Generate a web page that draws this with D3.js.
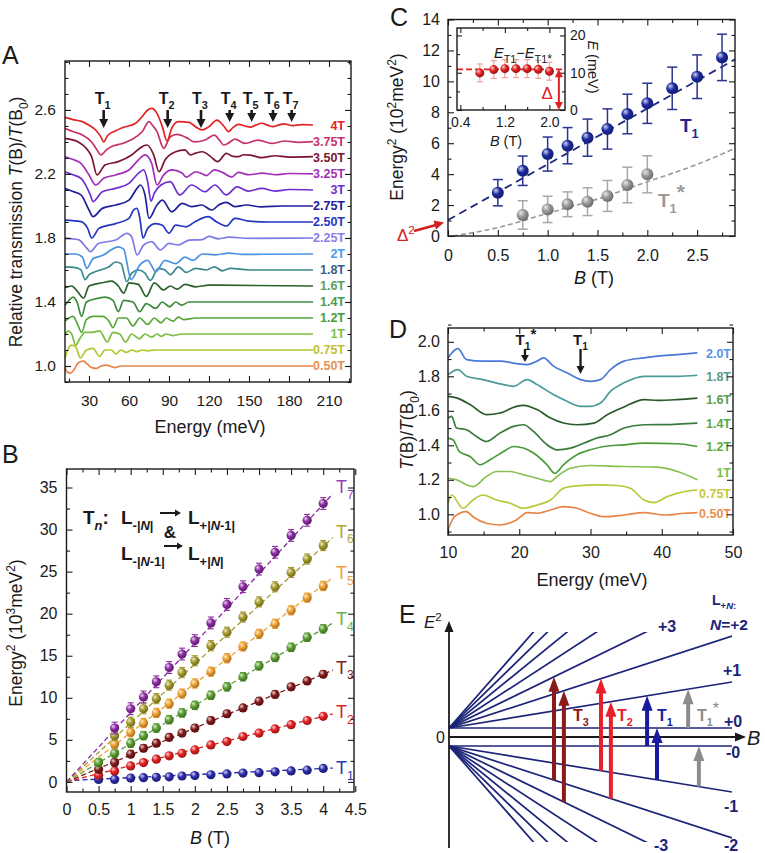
<!DOCTYPE html>
<html><head><meta charset="utf-8">
<script src="https://cdn.jsdelivr.net/npm/d3@7"></script>
<style>body{margin:0;background:#fff}</style>
</head><body>
<svg id="fig" width="765" height="853" xmlns="http://www.w3.org/2000/svg"></svg>
<script>
// ================= DATA =================
// ---- Panel A: transmission spectra (Energy meV, displayed T(B)/T(B0)) ----
const fieldsA = ["4T","3.75T","3.50T","3.25T","3T","2.75T","2.50T","2.25T","2T","1.8T","1.6T","1.4T","1.2T","1T","0.75T","0.50T"];
const offsetsA = [2.5,2.4,2.3,2.2,2.1,2.0,1.9,1.8,1.7,1.6,1.5,1.4,1.3,1.2,1.1,1.0];
const colorsA = ["#e02424","#c8306e","#7a1530","#a32fb8","#6e2fd0","#20209e","#2436c4","#7f7ae6","#4a92e2","#3a8a8c","#2c622c","#3c8a3c","#56a63a","#7cbc3e","#b6c632","#e8844a"];
const labelColorsA = ["#e02424","#c8306e","#7a1530","#a32fb8","#6e2fd0","#20209e","#2436c4","#8a7ee8","#4a9ae8","#3a6088","#5c9e5c","#4a9a4a","#4a9a3a","#7cc040","#c0c230","#e8904e"];
const spectraA = [
 [[12,2.554],[18,2.54],[25,2.527],[30,2.505],[35,2.475],[39,2.43],[41,2.40],[44,2.44],[50,2.47],[55,2.489],[65,2.517],[70,2.56],[74,2.60],[77,2.61],[81,2.579],[85,2.496],[88.5,2.406],[92,2.485],[97,2.527],[105,2.523],[111,2.489],[115,2.475],[120,2.496],[126,2.537],[131,2.50],[134.5,2.465],[138,2.49],[142,2.51],[147,2.50],[151,2.493],[155,2.505],[159.5,2.517],[164,2.505],[168,2.496],[172,2.505],[176,2.513],[183,2.502],[190,2.508],[198,2.506]],
 [[12,2.485],[18,2.465],[25,2.444],[32,2.40],[36,2.35],[39,2.319],[43,2.35],[47,2.371],[55,2.39],[62,2.415],[70,2.465],[75,2.527],[78,2.50],[81,2.465],[86,2.36],[91,2.433],[96,2.448],[104,2.423],[109,2.40],[117,2.412],[124,2.443],[128,2.41],[131,2.381],[134,2.39],[139.5,2.418],[147,2.391],[157,2.412],[167,2.391],[177,2.406],[187,2.398],[198,2.402]],
 [[12,2.423],[22,2.40],[28,2.36],[32,2.308],[36,2.194],[42,2.256],[52,2.277],[62,2.319],[70,2.371],[73.5,2.381],[78.5,2.319],[82.5,2.214],[87,2.287],[95,2.339],[102,2.35],[106,2.319],[110,2.33],[115,2.339],[121,2.31],[126.5,2.277],[133,2.329],[138,2.31],[142,2.308],[146,2.32],[151,2.318],[159.5,2.302],[169.5,2.314],[180,2.305],[198,2.308]],
 [[12,2.308],[18,2.29],[24,2.266],[30,2.194],[35,2.131],[41,2.173],[50,2.194],[60,2.225],[67,2.287],[72,2.319],[77,2.266],[81,2.131],[86,2.194],[92,2.225],[100,2.204],[103,2.18],[110,2.214],[114,2.204],[118,2.19],[124,2.225],[130,2.21],[137,2.18],[142,2.21],[150,2.195],[160,2.205],[170,2.195],[180,2.203],[198,2.2]],
 [[12,2.214],[18,2.195],[24,2.173],[31,2.069],[33,2.027],[40,2.089],[50,2.11],[60,2.141],[67,2.204],[71,2.225],[74,2.152],[76.5,2.03],[79,2.08],[84,2.131],[91,2.152],[98,2.069],[107,2.131],[117,2.089],[124.5,2.131],[133,2.069],[141,2.12],[149.5,2.093],[159.5,2.11],[169.5,2.093],[180,2.103],[198,2.1]],
 [[12,2.11],[18,2.09],[24,2.069],[30,1.975],[33,1.933],[40,1.985],[50,2.006],[60,2.037],[66,2.11],[68.5,2.131],[72,2.069],[75,1.923],[81,2.006],[85,2.037],[92,1.964],[100,2.016],[107,1.996],[114.5,2.006],[122,1.975],[128,2.01],[133,2.023],[139.5,1.996],[148,2.006],[159.5,1.994],[175,2.0],[198,2.0]],
 [[12,1.912],[24,1.902],[29,1.86],[32,1.80],[37.5,1.86],[50,1.89],[60,1.923],[63.5,1.975],[66,1.985],[68,1.93],[70.5,1.80],[74,1.86],[80,1.89],[85,1.88],[90,1.83],[95,1.88],[103,1.87],[109.5,1.902],[119.5,1.933],[125.5,1.902],[133,1.875],[139.5,1.923],[150,1.905],[165,1.9],[198,1.9]],
 [[12,1.798],[22,1.79],[28.5,1.735],[31,1.714],[37,1.766],[50,1.787],[58.5,1.829],[62,1.808],[66,1.694],[71,1.756],[77,1.777],[83.5,1.725],[90,1.766],[97,1.756],[105,1.787],[115,1.79],[120,1.81],[127,1.795],[135,1.805],[150,1.798],[198,1.8]],
 [[12,1.70],[20,1.70],[25,1.68],[28.3,1.61],[33,1.67],[40,1.69],[52,1.745],[56,1.73],[61.6,1.54],[68,1.63],[74,1.66],[80,1.59],[87,1.66],[95,1.64],[102,1.68],[108,1.66],[115,1.70],[125,1.695],[135,1.705],[145,1.698],[198,1.7]],
 [[12,1.62],[20,1.615],[24,1.60],[27,1.54],[30,1.57],[35,1.59],[45,1.62],[50,1.65],[54,1.64],[58.3,1.527],[62,1.58],[67,1.60],[72,1.58],[76,1.535],[82,1.61],[87,1.60],[91,1.57],[97,1.62],[103,1.585],[110,1.61],[118,1.60],[124,1.62],[130,1.595],[136,1.61],[150,1.60],[198,1.6]],
 [[12,1.49],[17,1.50],[21,1.47],[26,1.425],[30,1.50],[40,1.52],[47,1.53],[52,1.50],[56,1.455],[60,1.52],[67,1.51],[73,1.435],[79,1.52],[86,1.475],[91,1.50],[96,1.48],[102,1.51],[110,1.495],[120,1.505],[198,1.5]],
 [[12,1.38],[15,1.41],[18,1.43],[21,1.40],[24.5,1.31],[28,1.40],[35,1.42],[42,1.43],[48,1.41],[52,1.34],[56,1.41],[63,1.40],[68,1.34],[73,1.39],[80,1.36],[85,1.40],[90.5,1.37],[95,1.40],[99.5,1.38],[105,1.40],[198,1.4]],
 [[12,1.28],[15,1.30],[18,1.31],[21,1.27],[24.5,1.21],[28,1.29],[33,1.31],[40,1.31],[45,1.28],[48,1.24],[52,1.30],[58,1.30],[63,1.25],[68,1.30],[74,1.26],[79,1.30],[84,1.27],[88,1.30],[93,1.28],[97,1.305],[101,1.29],[110,1.30],[198,1.3]],
 [[12,1.19],[14.5,1.22],[17,1.20],[20,1.13],[23,1.17],[27,1.21],[32,1.21],[38,1.22],[43.6,1.15],[48,1.21],[53,1.20],[57.4,1.15],[62,1.20],[67.8,1.17],[72,1.20],[77,1.18],[81,1.20],[84,1.185],[88,1.20],[93,1.19],[100,1.20],[198,1.2]],
 [[12,1.05],[14,1.10],[17,1.13],[20,1.12],[23.5,1.05],[28,1.10],[33,1.11],[38,1.06],[42,1.10],[47,1.10],[50,1.075],[54,1.10],[58,1.085],[62,1.10],[66,1.09],[70,1.10],[74,1.095],[80,1.10],[198,1.1]],
 [[12,0.99],[14,0.96],[16.3,0.956],[19,0.98],[22,1.02],[25.7,1.03],[29,1.01],[32,0.99],[35.8,0.985],[39,1.00],[43.3,1.006],[47,0.995],[49.5,0.99],[54,1.0],[198,1.0]]
];
const arrowSubA = ["1","2","3","4","5","6","7"];
const arrowEnergyA = [41,89,114,135.5,152,168,182];
const ticksAx = [30,60,90,120,150,180,210];
const ticksAy = [1.0,1.4,1.8,2.2,2.6];

// ---- Panel B: Energy^2 (10^3 meV^2) vs B ----
const fieldB = [0.5,0.75,1,1.2,1.4,1.6,1.8,2,2.25,2.5,2.75,3,3.25,3.5,3.75,4];
const namesB = ["1","2","3","4","5","6","7"];
const colorsB = ["#2a2aa8","#e02020","#801818","#5a9e30","#f0a030","#a39a2a","#8a2aa0"];
const labelColorsB = ["#2a3aa8","#e02424","#802020","#6ab04a","#f0a040","#b0a838","#9a40b0"];
const valuesB = [
 [0.3,0.3,0.45,0.5,0.55,0.6,0.7,0.75,0.85,0.95,1.05,1.1,1.2,1.3,1.4,1.6],
 [0.8,1.3,1.9,2.3,2.7,3.1,3.4,3.8,4.4,4.8,5.4,5.8,6.3,6.8,7.3,7.8],
 [1.5,2.3,3.3,4.0,4.6,5.3,5.8,6.4,7.3,8.1,8.8,9.6,10.4,11.3,12.0,12.8],
 [2.3,3.4,4.6,5.5,6.4,7.4,8.2,9.1,10.3,11.3,12.5,13.8,14.8,16.0,17.2,18.2],
 [null,4.5,5.9,7.0,8.2,9.3,10.5,11.7,13.1,14.7,16.1,17.6,18.8,20.4,21.9,23.3],
 [null,5.5,7.1,8.7,9.9,11.5,13.0,14.4,16.2,17.8,19.6,21.4,23.2,24.9,26.5,28.1],
 [null,6.4,8.7,10.1,11.9,13.6,15.2,16.8,18.9,21.1,23.2,25.3,27.3,29.3,31.1,33.1]
];
const errB = [0.3,0.35,0.4,0.5,0.55,0.6,0.7];
const fitSlopeB = [0.36,1.95,3.2,4.55,5.85,7.0,8.25];
const fitInterceptB = [0.15,0,0,0,0,0,0];
const ticksBx = [0,0.5,1,1.5,2,2.5,3,3.5,4,4.5];
const ticksBy = [0,5,10,15,20,25,30,35];

// ---- Panel C ----
const fieldT1C = [0.5,0.75,1.0,1.2,1.4,1.6,1.8,2.0,2.25,2.5,2.75];
const valT1C = [2.80,4.22,5.30,5.84,6.36,6.92,7.89,8.58,9.55,10.3,11.55];
const errT1C = [0.85,0.95,1.1,1.17,1.2,1.3,1.28,1.3,1.37,1.41,1.5];
const fieldT1sC = [0.75,1.0,1.2,1.4,1.6,1.8,2.0];
const valT1sC = [1.36,1.72,2.05,2.22,2.59,3.30,3.99];
const errT1sC = [0.92,0.85,0.8,0.9,1.0,1.15,1.2];
const fitT1C = [[0,1.03],[2.88,11.42]];
const fitT1sC = [[0.05,0.0],[0.5,0.54],[1.0,1.47],[1.5,2.39],[2.0,3.51],[2.5,4.63],[2.88,5.67]];
const ticksCx = [0,0.5,1.0,1.5,2.0,2.5];
const ticksCy = [0,2,4,6,8,10,12,14];
const fieldInset = [0.75,1.0,1.2,1.4,1.6,1.8,2.0];
const valInset = [9.95,10.85,11.1,11.1,11.1,10.9,10.4];
const errInset = [2.4,2.4,2.4,2.4,2.4,2.4,2.4];
const deltaInset = 10.9;
const ticksInsetX = [0.4,1.2,2.0];
const ticksInsetY = [0,10,20];

// ---- Panel D ----
const fieldsD = ["2.0T","1.8T","1.6T","1.4T","1.2T","1T","0.75T","0.50T"];
const colorsD = ["#4a7ad8","#4a9a9a","#2a5a2a","#3a7a3a","#4a9a3a","#88c050","#b8c83a","#e8864a"];
const labelColorsD = ["#5a92e8","#5a9a8a","#5aa04a","#5aa84a","#5aac3a","#7ac040","#c8c83a","#e8904e"];
const labelValD = [1.93,1.80,1.665,1.525,1.395,1.245,1.12,1.005];
const spectraD = [
 [[10,1.907],[11.4,1.96],[12.6,1.897],[14.9,1.888],[17.3,1.888],[19.6,1.874],[21.1,1.868],[22.5,1.888],[23.4,1.907],[24.8,1.859],[26.7,1.82],[28.6,1.781],[30,1.771],[31.4,1.781],[32.8,1.839],[34.7,1.888],[37.5,1.907],[39.4,1.917],[42.2,1.926],[45,1.936]],
 [[10,1.81],[11.4,1.839],[12.6,1.80],[14.9,1.781],[17.8,1.752],[19.2,1.742],[21.1,1.781],[22.5,1.752],[24.8,1.694],[26.7,1.655],[28.6,1.626],[30,1.626],[31.4,1.645],[32.8,1.713],[34.7,1.762],[37.5,1.80],[39.4,1.80],[42.2,1.80],[45,1.806]],
 [[10,1.684],[11.2,1.675],[13.1,1.636],[15.4,1.578],[17.3,1.587],[19.6,1.626],[20.6,1.632],[22.5,1.607],[24.4,1.558],[26.2,1.529],[28.1,1.519],[30.5,1.529],[32.4,1.578],[34.7,1.622],[37.5,1.665],[39.4,1.66],[42.2,1.665],[45,1.674]],
 [[10,1.558],[10.5,1.568],[11.2,1.50],[12.6,1.49],[14,1.451],[15.4,1.422],[17.3,1.471],[19.2,1.51],[20.6,1.519],[22,1.481],[23.9,1.403],[25.3,1.374],[27.2,1.384],[29.1,1.413],[30.9,1.442],[32.8,1.461],[34.7,1.50],[37.5,1.519],[40.3,1.52],[45,1.529]],
 [[10,1.442],[10.7,1.432],[11.6,1.364],[13.1,1.335],[14.5,1.287],[15.9,1.316],[17.8,1.364],[19.2,1.393],[20.6,1.384],[22,1.355],[23.9,1.287],[25,1.238],[26.2,1.287],[28.1,1.345],[30,1.374],[31.9,1.393],[34.7,1.403],[37.5,1.413],[42.2,1.409],[45,1.393]],
 [[10,1.209],[11.2,1.2],[12.6,1.171],[13.5,1.161],[15.4,1.219],[16.8,1.248],[18.7,1.248],[20.6,1.229],[22.5,1.209],[24.4,1.19],[25.3,1.219],[27.2,1.267],[30,1.283],[34.7,1.277],[39.4,1.273],[42.2,1.248],[45,1.2]],
 [[10,1.064],[10.5,1.112],[12.1,1.035],[13.5,1.083],[14.9,1.112],[16.8,1.083],[18.7,1.064],[20.6,1.035],[22.5,1.054],[24.4,1.083],[26.2,1.151],[28.1,1.165],[30.9,1.171],[33.8,1.167],[35.6,1.151],[37.5,1.083],[38.9,1.068],[40.8,1.103],[43.2,1.132],[45,1.141]],
 [[10,0.909],[10.9,0.986],[12.6,1.016],[13.5,0.986],[15.4,0.948],[17.3,0.938],[19.6,0.967],[21.1,1.01],[22.5,1.006],[24.4,1.025],[26.2,1.045],[28.1,1.035],[30,1.006],[31.9,0.986],[34.7,0.996],[37.5,1.01],[40.4,0.996],[43.2,1.006],[45,1.01]]
];
const arrowEnergyD = [20.8,28.6];
const ticksDx = [10,20,30,40,50];
const ticksDy = [1.0,1.2,1.4,1.6,1.8,2.0];

// ---- Panel E: schematic Landau levels ----
const levelsE = [0,1,2,3,4,5,6,7];
const levelOffsetE = 0.09, levelSlopeE = 0.46;
const transFieldE = [0.371,0.406,0.537,0.572,0.70,0.735,0.845,0.883];
const transFromE = ["-2","-3","-1","-2","-0","-1","+0","-1"];
const transToE = ["+3","+2","+2","+1","+1","+0","+1","-0"];
const transGroupE = ["T3","T3","T2","T2","T1","T1","T1*","T1*"];
const groupColorE = {"T3":"#8b1a1a","T2":"#e8202a","T1":"#1a1aa0","T1*":"#8c8c8c"};

// ================= DRAWING =================
const FONT = "Arial, 'Liberation Sans', Helvetica, sans-serif";
const svg = d3.select("#fig");
const defs = svg.append("defs");
const INK = "#1a1a1a";
const gradCache = {};
function ball(color){
  if (gradCache[color]) return gradCache[color];
  const id = "ball" + Object.keys(gradCache).length;
  const g = defs.append("radialGradient").attr("id",id).attr("cx","0.4").attr("cy","0.4").attr("r","0.62").attr("fx","0.33").attr("fy","0.3");
  g.append("stop").attr("offset","0").attr("stop-color", d3.interpolateRgb(color,"#ffffff")(0.8));
  g.append("stop").attr("offset","0.5").attr("stop-color", color);
  g.append("stop").attr("offset","1").attr("stop-color", d3.color(color).darker(1.1).formatHex());
  gradCache[color] = `url(#${id})`;
  return gradCache[color];
}
function rich(g, x, y, parts, o={}){
  const base = o.size || 16;
  const t = g.append("text").attr("x",x).attr("y",y).attr("font-family",FONT)
    .attr("font-size",base).attr("fill",o.fill||INK).attr("font-weight",o.weight||"normal")
    .attr("text-anchor",o.anchor||"start");
  if (o.rotate) t.attr("transform",`rotate(${o.rotate},${x},${y})`);
  let shift = 0;
  parts.forEach(p => {
    if (typeof p === "string") p = {t:p};
    const s = t.append("tspan").text(p.t);
    const target = p.sub ? base*0.32 : (p.sup ? -base*0.42 : 0);
    const dy = target - shift; shift = target;
    if (dy) s.attr("dy", dy.toFixed(2));
    if (p.sub || p.sup) s.attr("font-size", (base*(p.scale||0.68)).toFixed(1));
    if (p.it) s.attr("font-style","italic");
    if (p.bold) s.attr("font-weight","bold");
    if (p.fill) s.attr("fill",p.fill);
  });
  return t;
}
function frame(g, x, y, o){
  const [xa,xb] = x.range(), [ya,yb] = y.range();
  const fs = o.fs || 16;
  const ax = (fn, scale, vals, len, fmt, tr, pad) => {
    const a = fn(scale).tickValues(vals).tickSize(-len).tickPadding(pad||0).tickFormat(fmt || (()=>""));
    const s = g.append("g").attr("transform",tr).call(a);
    s.select(".domain").remove();
    s.selectAll(".tick line").attr("stroke",INK).attr("stroke-width",1.1);
    s.selectAll(".tick text").attr("font-family",FONT).attr("font-size",fs).attr("fill",INK);
    return s;
  };
  ax(d3.axisBottom, x, o.xMinor, o.minor, null, `translate(0,${ya})`);
  ax(d3.axisBottom, x, o.xMajor, o.major, o.xFmt, `translate(0,${ya})`, o.xPad);
  ax(d3.axisTop, x, o.xMinor, o.minor, null, `translate(0,${yb})`);
  ax(d3.axisTop, x, o.xMajor, o.major, null, `translate(0,${yb})`);
  if (o.yRightLabels) {
    ax(d3.axisRight, y, o.yMinor, o.minor, null, `translate(${xb},0)`);
    ax(d3.axisRight, y, o.yMajor, o.major, o.yFmt, `translate(${xb},0)`, o.yPad);
    ax(d3.axisLeft, y, o.yMinor, o.minor, null, `translate(${xa},0)`);
    ax(d3.axisLeft, y, o.yMajor, o.major, null, `translate(${xa},0)`);
  } else {
    ax(d3.axisLeft, y, o.yMinor, o.minor, null, `translate(${xa},0)`);
    ax(d3.axisLeft, y, o.yMajor, o.major, o.yFmt, `translate(${xa},0)`, o.yPad);
    ax(d3.axisRight, y, o.yMinor, o.minor, null, `translate(${xb},0)`);
    ax(d3.axisRight, y, o.yMajor, o.major, null, `translate(${xb},0)`);
  }
  g.append("rect").attr("x",xa).attr("y",yb).attr("width",xb-xa).attr("height",ya-yb)
    .attr("fill","none").attr("stroke",INK).attr("stroke-width",1.4);
}
function arrowV(g, x, y1, y2, color, w, hw, hl){
  const dir = y2 < y1 ? -1 : 1;
  g.append("line").attr("x1",x).attr("x2",x).attr("y1",y1).attr("y2",y2 - dir*hl*0.8)
    .attr("stroke",color).attr("stroke-width",w);
  g.append("path").attr("d",`M${x-hw/2},${y2-dir*hl} L${x+hw/2},${y2-dir*hl} L${x},${y2} Z`).attr("fill",color);
}
function panelLetter(t, x, y){
  svg.append("text").attr("x",x).attr("y",y).attr("font-family",FONT).attr("font-size",25).attr("fill",INK).text(t);
}
const f1 = d3.format(".1f");

// ---------- Panel A ----------
{
  const g = svg.append("g");
  const x = d3.scaleLinear().domain([12,226.5]).range([65,351]);
  const y = d3.scaleLinear().domain([0.9,2.906]).range([382,61]);
  const line = d3.line().x(d=>x(d[0])).y(d=>y(d[1])).curve(d3.curveMonotoneX);
  for (let i = spectraA.length-1; i >= 0; i--) {
    g.append("path").attr("d", line(spectraA[i])).attr("fill","none")
      .attr("stroke", colorsA[i]).attr("stroke-width",1.7).attr("stroke-linejoin","round");
    g.append("text").attr("x",345).attr("y",y(offsetsA[i])+4.5).attr("text-anchor","end")
      .attr("font-family",FONT).attr("font-weight","bold").attr("font-size",12.5)
      .attr("fill",labelColorsA[i]).text(fieldsA[i]);
  }
  frame(g, x, y, {xMajor:ticksAx, xMinor:d3.range(15,226,30), yMajor:ticksAy,
    yMinor:d3.range(0.9,2.95,0.1), major:6, minor:3.5, xFmt:d=>d, yFmt:f1, xPad:13, yPad:9, fs:15.5});
  arrowEnergyA.forEach((e,i) => {
    const xx = x(e);
    rich(g, xx-1, 104, [{t:"T",bold:true},{t:arrowSubA[i],sub:true,bold:true}], {size:16, anchor:"middle"});
    arrowV(g, xx, 110, i < 3 ? 128 : 122, INK, 2.6, 9, 9);
  });
  rich(g, 22, 222, ["Relative transmission ",{t:"T",it:true},"(B)/",{t:"T",it:true},"(B",{t:"0",sub:true},")"],
    {size:17.5, anchor:"middle", rotate:-90});
  g.append("text").attr("x",210).attr("y",433).attr("text-anchor","middle").attr("font-family",FONT)
    .attr("font-size",18).attr("fill",INK).text("Energy (meV)");
  panelLetter("A", 2, 64);
}

// ---------- Panel B ----------
{
  const g = svg.append("g");
  const x = d3.scaleLinear().domain([0,4.48]).range([66.5,354]);
  const y = d3.scaleLinear().domain([-1.2,37.2]).range([792,469]);
  valuesB.forEach((vals,i) => {
    const pts = [[0,fitInterceptB[i]],[4.15,fitInterceptB[i]+fitSlopeB[i]*4.15]];
    g.append("path").attr("d", d3.line().x(d=>x(d[0])).y(d=>y(d[1]))(pts)).attr("fill","none")
      .attr("stroke",colorsB[i]).attr("stroke-width",1.3).attr("stroke-dasharray","5,3");
  });
  valuesB.forEach((vals,i) => {
    vals.forEach((v,j) => {
      if (v === null) return;
      const cx = x(fieldB[j]);
      g.append("line").attr("x1",cx).attr("x2",cx).attr("y1",y(v-errB[i])).attr("y2",y(v+errB[i])).attr("stroke",colorsB[i]).attr("stroke-width",1.1);
      [v-errB[i], v+errB[i]].forEach(e => g.append("line").attr("x1",cx-3).attr("x2",cx+3).attr("y1",y(e)).attr("y2",y(e)).attr("stroke",colorsB[i]).attr("stroke-width",1.1));
      g.append("circle").attr("cx",cx).attr("cy",y(v)).attr("r",4.6).attr("fill",ball(colorsB[i]));
    });
    const ly = fitInterceptB[i] + fitSlopeB[i]*4.25;
    rich(g, x(4.2), y(ly)+6, [{t:"T"},{t:namesB[i],sub:true}], {size:18, fill:labelColorsB[i]});
  });
  frame(g, x, y, {xMajor:ticksBx, xMinor:d3.range(0.25,4.5,0.5), yMajor:ticksBy,
    yMinor:d3.range(2.5,37,5), major:6, minor:3.5, xFmt:d=>String(d), yFmt:d=>String(d), xPad:12, yPad:9, fs:16});
  const bs = 19;
  rich(g, 83, 524, [{t:"T",bold:true},{t:"n",sub:true,it:true,bold:true},{t:":",bold:true}], {size:bs});
  rich(g, 121, 524, [{t:"L",bold:true},{t:"-|",sub:true,bold:true},{t:"N",sub:true,it:true,bold:true},{t:"|",sub:true,bold:true}], {size:bs});
  rich(g, 188, 524, [{t:"L",bold:true},{t:"+|",sub:true,bold:true},{t:"N",sub:true,it:true,bold:true},{t:"-1|",sub:true,bold:true}], {size:bs});
  g.append("text").attr("x",170).attr("y",538).attr("text-anchor","middle").attr("font-family",FONT).attr("font-weight","bold").attr("font-size",17).attr("fill",INK).text("&");
  rich(g, 121, 560, [{t:"L",bold:true},{t:"-|",sub:true,bold:true},{t:"N",sub:true,it:true,bold:true},{t:"-1|",sub:true,bold:true}], {size:bs});
  rich(g, 188, 560, [{t:"L",bold:true},{t:"+|",sub:true,bold:true},{t:"N",sub:true,it:true,bold:true},{t:"|",sub:true,bold:true}], {size:bs});
  [[160,181,513],[164,183,546]].forEach(a => {
    g.append("line").attr("x1",a[0]).attr("x2",a[1]-4).attr("y1",a[2]).attr("y2",a[2]).attr("stroke",INK).attr("stroke-width",2);
    g.append("path").attr("d",`M${a[1]-6},${a[2]-3.5} L${a[1]},${a[2]} L${a[1]-6},${a[2]+3.5} Z`).attr("fill",INK);
  });
  rich(g, 22, 633, ["Energy",{t:"2",sup:true}," (10",{t:"3",sup:true},"meV",{t:"2",sup:true},")"], {size:17.5, anchor:"middle", rotate:-90});
  rich(g, 210, 844, [{t:"B",it:true}," (T)"], {size:18, anchor:"middle"});
  panelLetter("B", 2, 463);
}

// ---------- Panel C ----------
{
  const g = svg.append("g");
  const x = d3.scaleLinear().domain([0,2.88]).range([448,735]);
  const y = d3.scaleLinear().domain([0,14]).range([236,19.5]);
  const ln = d3.line().x(d=>x(d[0])).y(d=>y(d[1]));
  g.append("path").attr("d", ln.curve(d3.curveMonotoneX)(fitT1sC)).attr("fill","none").attr("stroke","#9a9a9a").attr("stroke-width",1.6).attr("stroke-dasharray","5,3");
  g.append("path").attr("d", d3.line().x(d=>x(d[0])).y(d=>y(d[1]))(fitT1C)).attr("fill","none").attr("stroke","#1c2a80").attr("stroke-width",1.8).attr("stroke-dasharray","8,5");
  const drawPts = (bs, vs, es, col, barCol) => {
    bs.forEach((b,j) => {
      const cx = x(b);
      g.append("line").attr("x1",cx).attr("x2",cx).attr("y1",y(vs[j]-es[j])).attr("y2",y(vs[j]+es[j])).attr("stroke",barCol).attr("stroke-width",1.5);
      [vs[j]-es[j], vs[j]+es[j]].forEach(e => g.append("line").attr("x1",cx-5).attr("x2",cx+5).attr("y1",y(e)).attr("y2",y(e)).attr("stroke",barCol).attr("stroke-width",1.5));
      g.append("circle").attr("cx",cx).attr("cy",y(vs[j])).attr("r",6).attr("fill",ball(col));
    });
  };
  drawPts(fieldT1sC, valT1sC, errT1sC, "#9a9a9a", "#a8a8a8");
  drawPts(fieldT1C, valT1C, errT1C, "#1c2aa0", "#2a3490");
  frame(g, x, y, {xMajor:ticksCx, xMinor:d3.range(0.25,2.88,0.5), yMajor:ticksCy,
    yMinor:d3.range(1,14,2), major:6, minor:3.5, xFmt:d=>d===0?"0":f1(d), yFmt:d=>String(d), xPad:14, yPad:8, fs:16});
  rich(g, 680, 132, [{t:"T",bold:true},{t:"1",sub:true,bold:true}], {size:19, fill:"#1c2a90"});
  rich(g, 658, 207, [{t:"T",bold:true},{t:"1",sub:true,bold:true},{t:"*",sup:true,bold:true,scale:1.1}], {size:19, fill:"#9a9a9a"});
  g.append("line").attr("x1",414).attr("y1",231).attr("x2",436).attr("y2",225).attr("stroke","#d42020").attr("stroke-width",2.5);
  g.append("path").attr("d","M444,222.5 L433.5,220.5 L436,229.5 Z").attr("fill","#d42020");
  rich(g, 397, 241, ["Δ",{t:"2",sup:true}], {size:17, fill:"#d42020"});
  rich(g, 403, 127, ["Energy",{t:"2",sup:true}," (10",{t:"2",sup:true},"meV",{t:"2",sup:true},")"], {size:17.5, anchor:"middle", rotate:-90});
  rich(g, 594, 284, [{t:"B",it:true}," (T)"], {size:18, anchor:"middle"});
  panelLetter("C", 390, 26);

  // inset
  const gi = svg.append("g");
  const xi = d3.scaleLinear().domain([0.34,2.28]).range([457,565]);
  const yi = d3.scaleLinear().domain([0,22]).range([110,28]);
  gi.append("rect").attr("x",457).attr("y",28).attr("width",108).attr("height",82).attr("fill","#fff");
  gi.append("line").attr("x1",xi(0.34)).attr("x2",xi(2.28)).attr("y1",yi(deltaInset)).attr("y2",yi(deltaInset)).attr("stroke","#e02020").attr("stroke-width",1.6).attr("stroke-dasharray","6,3");
  fieldInset.forEach((b,j) => {
    const cx = xi(b);
    gi.append("line").attr("x1",cx).attr("x2",cx).attr("y1",yi(valInset[j]-errInset[j])).attr("y2",yi(valInset[j]+errInset[j])).attr("stroke","#f0a0a0").attr("stroke-width",1.2);
    [valInset[j]-errInset[j], valInset[j]+errInset[j]].forEach(e => gi.append("line").attr("x1",cx-3).attr("x2",cx+3).attr("y1",yi(e)).attr("y2",yi(e)).attr("stroke","#f0a0a0").attr("stroke-width",1.2));
    gi.append("circle").attr("cx",cx).attr("cy",yi(valInset[j])).attr("r",4.5).attr("fill",ball("#e02020"));
  });
  frame(gi, xi, yi, {xMajor:ticksInsetX, xMinor:[0.8,1.6], yMajor:ticksInsetY, yMinor:[5,15],
    major:5, minor:3, xFmt:f1, yFmt:d=>String(d), xPad:7, yPad:5, fs:14, yRightLabels:true});
  const dx = xi(2.17);
  gi.append("line").attr("x1",dx).attr("x2",dx).attr("y1",yi(deltaInset)+6).attr("y2",yi(0)-6).attr("stroke","#e02020").attr("stroke-width",2);
  gi.append("path").attr("d",`M${dx-4},${yi(deltaInset)+8} L${dx+4},${yi(deltaInset)+8} L${dx},${yi(deltaInset)} Z`).attr("fill","#e02020");
  gi.append("path").attr("d",`M${dx-4},${yi(0)-8} L${dx+4},${yi(0)-8} L${dx},${yi(0)} Z`).attr("fill","#e02020");
  gi.append("text").attr("x",dx-6).attr("y",99).attr("text-anchor","end").attr("font-family",FONT).attr("font-size",17).attr("fill","#e02020").text("Δ");
  rich(gi, 523, 58, [{t:"E",it:true},{t:"T1",sub:true,scale:0.75},"−",{t:"E",it:true},{t:"T1",sub:true,scale:0.75},{t:"*",sub:true,scale:0.85}], {size:14.5, anchor:"middle"});
  rich(gi, 506, 146, [{t:"B",it:true}," (T)"], {size:14.5, anchor:"middle"});
  rich(gi, 588, 67, [{t:"E",it:true}," (meV)"], {size:14.5, anchor:"middle", rotate:90});
}

// ---------- Panel D ----------
{
  const g = svg.append("g");
  const x = d3.scaleLinear().domain([10,50]).range([448,733]);
  const y = d3.scaleLinear().domain([0.88,2.08]).range([535,328]);
  const line = d3.line().x(d=>x(d[0])).y(d=>y(d[1])).curve(d3.curveMonotoneX);
  spectraD.forEach((s,i) => {
    g.append("path").attr("d", line(s)).attr("fill","none").attr("stroke",colorsD[i]).attr("stroke-width",1.7);
    g.append("text").attr("x",731).attr("y",y(labelValD[i])+4.5).attr("text-anchor","end")
      .attr("font-family",FONT).attr("font-weight","bold").attr("font-size",12.5).attr("fill",labelColorsD[i]).text(fieldsD[i]);
  });
  frame(g, x, y, {xMajor:ticksDx, xMinor:[15,25,35,45], yMajor:ticksDy, yMinor:d3.range(0.9,2.1,0.2),
    major:6, minor:3.5, xFmt:d=>String(d), yFmt:f1, xPad:12, yPad:8, fs:16});
  const xa = x(arrowEnergyD[0]), xb = x(arrowEnergyD[1]);
  rich(g, xa+1, 345, [{t:"T",bold:true},{t:"1",sub:true,bold:true},{t:"*",sup:true,bold:true,scale:1}], {size:15, anchor:"middle"});
  arrowV(g, xa, 349, 362, INK, 2.3, 8, 7);
  rich(g, xb, 345, [{t:"T",bold:true},{t:"1",sub:true,bold:true}], {size:15, anchor:"middle"});
  arrowV(g, xb, 349, 374, INK, 2.3, 8, 8);
  rich(g, 413, 430, [{t:"T",it:true},"(B)/",{t:"T",it:true},"(B",{t:"0",sub:true},")"], {size:17.5, anchor:"middle", rotate:-90});
  g.append("text").attr("x",592).attr("y",586).attr("text-anchor","middle").attr("font-family",FONT).attr("font-size",18).attr("fill",INK).text("Energy (meV)");
  panelLetter("D", 389, 338);
}

// ---------- Panel E ----------
{
  const g = svg.append("g");
  const x = d3.scaleLinear().domain([0,1]).range([449,732]);
  const y = d3.scaleLinear().domain([-1,1]).range([837,637]);
  const NAVY = "#1c2478";
  defs.append("clipPath").attr("id","clipE").append("rect").attr("x",449).attr("y",632).attr("width",283).attr("height",210);
  const gl = g.append("g").attr("clip-path","url(#clipE)");
  const lvl = (sign, N, b) => sign*(levelOffsetE + levelSlopeE*N*b);
  [1,-1].forEach(sign => levelsE.forEach(N => {
    gl.append("line").attr("x1",x(0)).attr("y1",y(lvl(sign,N,0))).attr("x2",x(1)).attr("y2",y(lvl(sign,N,1)))
      .attr("stroke",NAVY).attr("stroke-width",1.7);
  }));
  g.append("line").attr("x1",x(0)).attr("x2",x(0)).attr("y1",848).attr("y2",630).attr("stroke",INK).attr("stroke-width",1.8);
  g.append("path").attr("d",`M${x(0)-4.5},${632} L${x(0)+4.5},${632} L${x(0)},${621} Z`).attr("fill",INK);
  g.append("line").attr("x1",x(0)).attr("x2",737).attr("y1",y(0)).attr("y2",y(0)).attr("stroke",INK).attr("stroke-width",1.8);
  g.append("path").attr("d",`M735,${y(0)-4.5} L735,${y(0)+4.5} L746,${y(0)} Z`).attr("fill",INK);
  const parseL = (s, b) => lvl(s[0]==="-"?-1:1, +s.slice(1), b);
  transFieldE.forEach((b,i) => {
    arrowV(g, x(b), y(parseL(transFromE[i],b)), y(parseL(transToE[i],b)), groupColorE[transGroupE[i]], 4, 11, 15);
  });
  const lab = (t, sub, star, xx, yy, col) => rich(g, xx, yy, [{t:t,bold:true},{t:sub,sub:true,bold:true}].concat(star?[{t:"*",sup:true,scale:1}]:[]), {size:16, fill:col});
  lab("T","3",false,573,721,groupColorE["T3"]);
  lab("T","2",false,617,721,groupColorE["T2"]);
  lab("T","1",false,657,721,groupColorE["T1"]);
  lab("T","1",true,697,721,groupColorE["T1*"]);
  const nl = (t, xx, yy) => g.append("text").attr("x",xx).attr("y",yy).attr("font-family",FONT).attr("font-weight","bold").attr("font-size",16).attr("fill",NAVY).text(t);
  nl("+3",658,632); nl("+1",723,676); nl("+0",724,727); nl("-0",726,758); nl("-1",724,812); nl("-3",654,851); nl("-2",724,851);
  rich(g, 712, 605, [{t:"L",bold:true},{t:"+",sub:true,bold:true},{t:"N",sub:true,bold:true,it:true},{t:":",sub:true,bold:true}], {size:14, fill:NAVY});
  rich(g, 710, 630, [{t:"N",it:true,bold:true},{t:"=+2",bold:true}], {size:15.5, fill:NAVY});
  rich(g, 424, 628, [{t:"E",it:true},{t:"2",sup:true}], {size:17});
  g.append("text").attr("x",445).attr("y",743).attr("text-anchor","end").attr("font-family",FONT).attr("font-size",16).attr("fill",INK).text("0");
  g.append("text").attr("x",747).attr("y",745).attr("font-family",FONT).attr("font-style","italic").attr("font-size",20).attr("fill",INK).text("B");
  panelLetter("E", 399, 623);
}
</script>
</body></html>
